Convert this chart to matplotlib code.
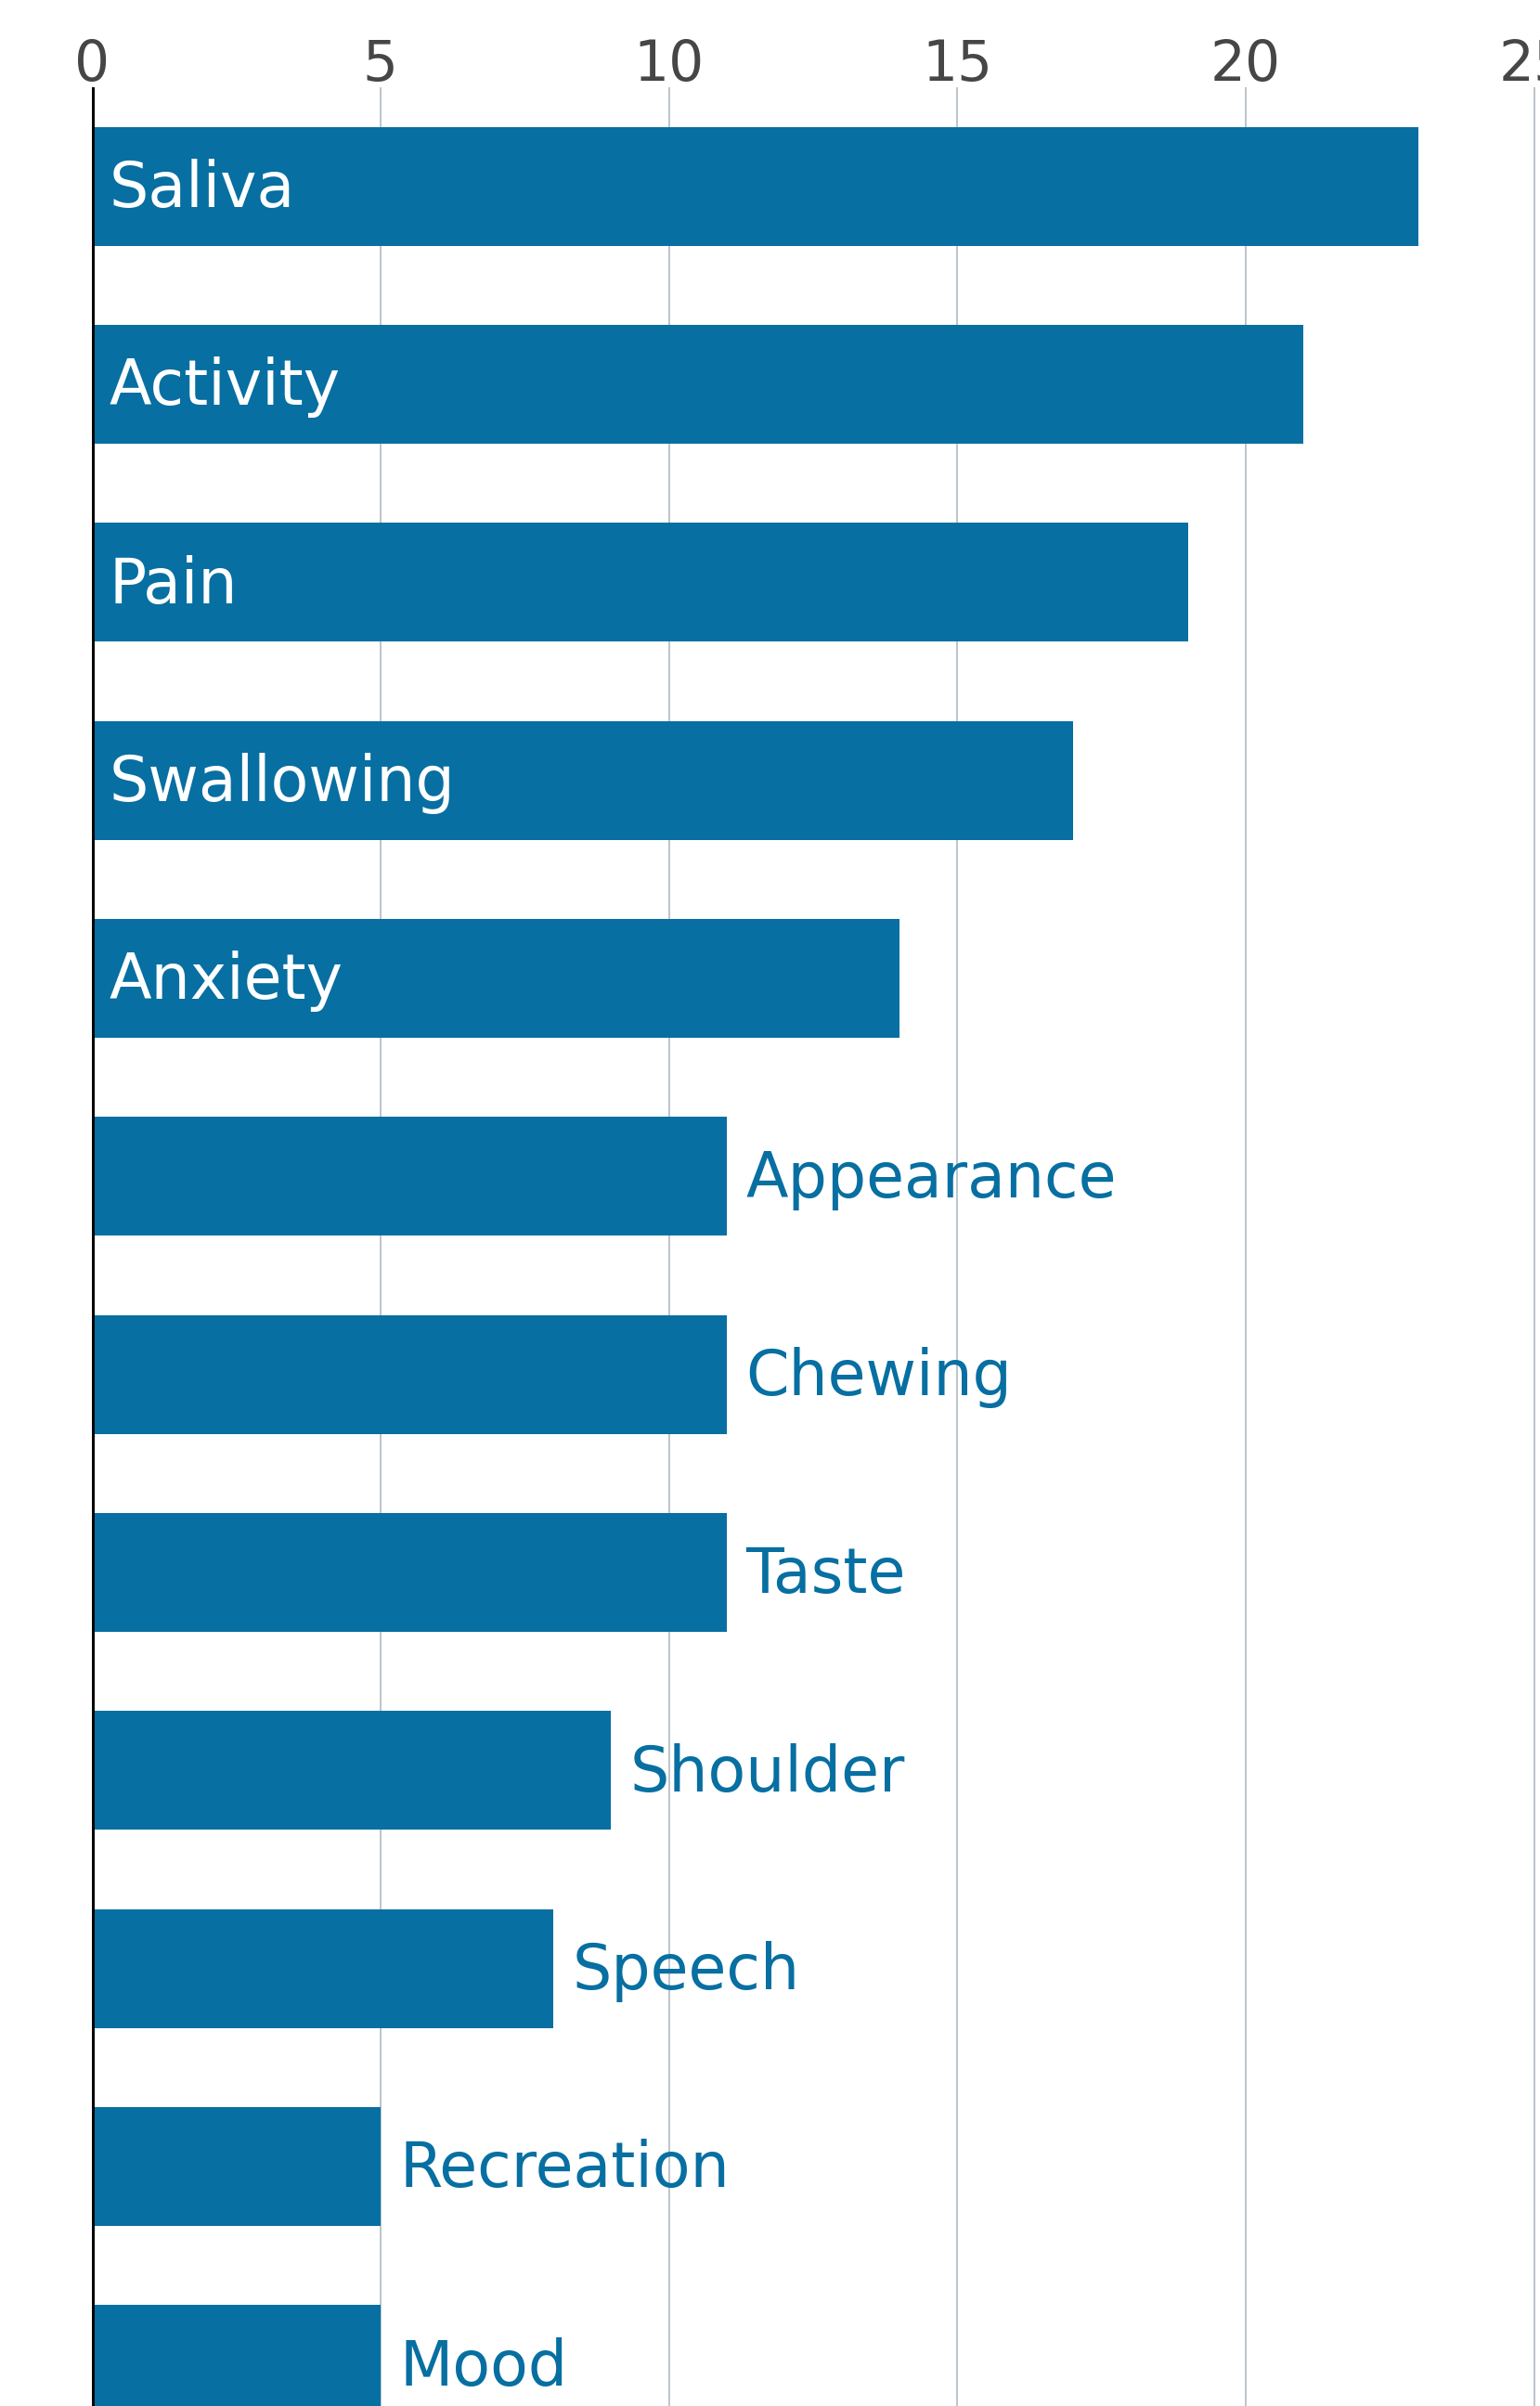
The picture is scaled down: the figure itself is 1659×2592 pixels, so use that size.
import matplotlib
matplotlib.use("Agg")
import matplotlib.pyplot as plt
import numpy as np

plt.rcParams['font.family'] = ['DejaVu Sans']

# data
names = ["Saliva", "Activity", "Pain", "Swallowing", "Anxiety", "Appearance",
         "Chewing", "Taste", "Shoulder", "Speech", "Recreation", "Mood"]
counts = [23, 21, 19, 17, 14, 11, 11, 11, 9, 8, 5, 5]
xticks = [0, 5, 10, 15, 20, 25]

BLUE = "#076fa1"
GRID = "#bcc4cc"

W, H = 1659, 2592
fig = plt.figure(figsize=(W / 100, H / 100), dpi=100)
fig.patch.set_facecolor("white")

left = 99 / W
top = 94 / H
ax = fig.add_axes([left, 0, 1 - left, 1 - top])

y = np.arange(len(names))
ax.barh(y, counts, height=0.6, color=BLUE, zorder=2)

ax.set_xlim(0, 25.1)
ax.set_ylim(11.21, -0.5)

ax.set_xticks(xticks)
ax.xaxis.set_ticks_position("top")
ax.xaxis.set_label_position("top")
ax.tick_params(axis="x", length=0, pad=-4, labelsize=43, labelcolor="#464646")
ax.set_yticks([])
ax.grid(axis="x", color=GRID, linewidth=1.4, zorder=1)

for s in ax.spines.values():
    s.set_visible(False)
ax.axvline(0, color="black", linewidth=3.6, zorder=4)

# baseline a little below bar centre so the caps sit centred on the bar
for yi, name, c in zip(y, names, counts):
    if c >= 14:
        ax.text(0.3, yi + 0.105, name, color="white", fontsize=48,
                va="baseline", ha="left", zorder=5)
    else:
        ax.text(c + 0.33, yi + 0.105, name, color=BLUE, fontsize=48,
                va="baseline", ha="left", zorder=5)

fig.savefig("out.png", dpi=100, facecolor="white")
